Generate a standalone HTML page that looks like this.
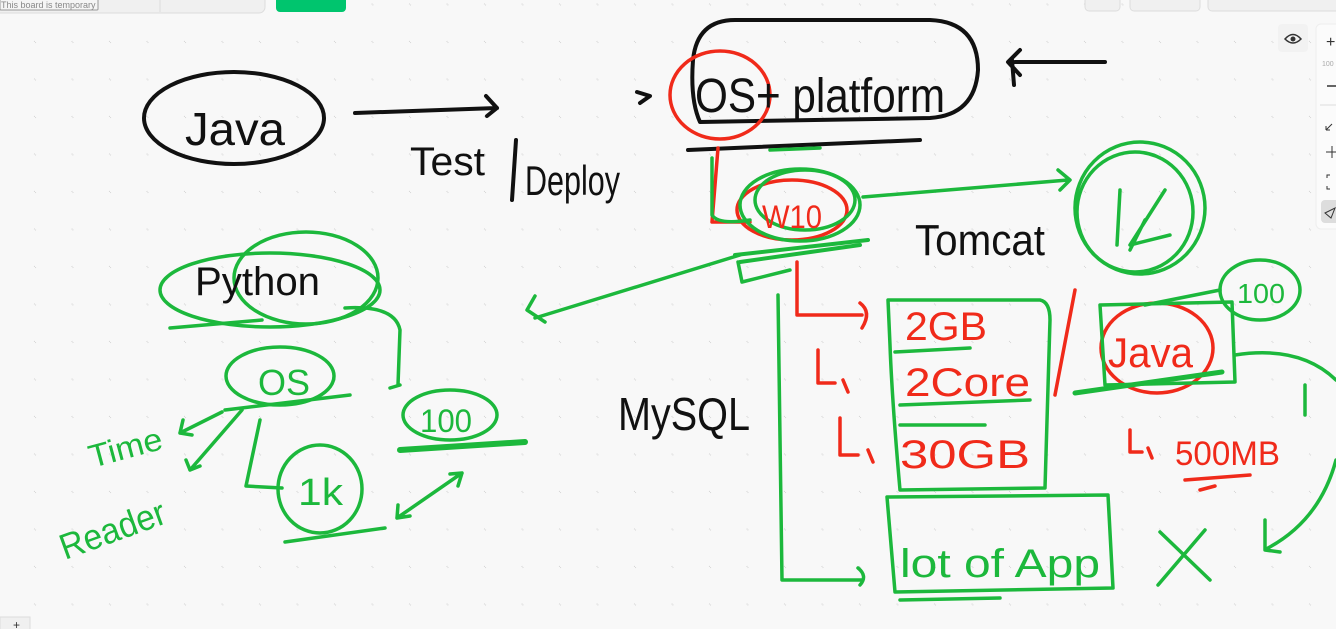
<!DOCTYPE html>
<html><head><meta charset="utf-8"><style>
html,body{margin:0;padding:0;width:1336px;height:629px;overflow:hidden;background:#f8f8f8;font-family:"Liberation Sans",sans-serif}
svg{position:absolute;left:0;top:0}
.t{font-family:"Liberation Sans",sans-serif}
</style></head><body>
<svg width="1336" height="629" viewBox="0 0 1336 629" xmlns="http://www.w3.org/2000/svg">
<defs>
<pattern id="dots" x="-2.5" y="4.5" width="37.5" height="37.5" patternUnits="userSpaceOnUse">
<circle cx="37.5" cy="37.5" r="1.2" fill="#d8d8d8"/><circle cx="0" cy="0" r="1.2" fill="#d8d8d8"/>
</pattern>
</defs>
<rect width="1336" height="629" fill="#f8f8f8"/>
<rect width="1336" height="629" fill="url(#dots)"/>

<!-- top bar -->
<rect x="-10" y="-10" width="275" height="23" rx="6" fill="#f0f0f0" stroke="#ddd"/>
<rect x="0" y="-2" width="98" height="12" fill="#f5f5f5" stroke="#999" rx="1"/>
<text x="1" y="8" font-size="9" fill="#888" class="t">This board is temporary</text>
<line x1="160" y1="0" x2="160" y2="12" stroke="#ddd"/>
<rect x="276" y="-8" width="70" height="20" rx="4" fill="#00c56e"/>
<rect x="1085" y="-8" width="35" height="19" rx="4" fill="#f0f0f0" stroke="#ddd"/>
<rect x="1130" y="-8" width="70" height="19" rx="4" fill="#f0f0f0" stroke="#ddd"/>
<rect x="1208" y="-8" width="140" height="19" rx="4" fill="#f0f0f0" stroke="#ddd"/>
<!-- right toolbar -->
<rect x="1278" y="24" width="30" height="28" rx="4" fill="#f2f2f2"/>
<path d="M1285 39 Q1293 30 1301 39 Q1293 47 1285 39Z" fill="none" stroke="#333" stroke-width="1.5"/>
<circle cx="1293" cy="39" r="2.5" fill="#333"/>
<rect x="1316" y="24" width="30" height="205" rx="5" fill="#fbfbfb" stroke="#eee"/>
<text x="1326" y="47" font-size="16" fill="#333" class="t">+</text>
<text x="1322" y="66" font-size="7" fill="#aaa" class="t">100</text>
<line x1="1327" y1="86" x2="1336" y2="86" stroke="#333" stroke-width="1.5"/>
<line x1="1320" y1="105" x2="1336" y2="105" stroke="#ddd"/>
<path d="M1326 130 l6 -6 M1326 130 v-4 M1326 130 h4" stroke="#333" fill="none"/>
<path d="M1332 146 v12 M1326 152 h12" stroke="#333" fill="none"/>
<path d="M1327 178 v-3 h3 M1327 186 v3 h3" stroke="#333" fill="none"/>
<rect x="1321" y="200" width="20" height="23" rx="4" fill="#ddd"/>
<path d="M1325 213 l10 -5 l-4 10z" fill="none" stroke="#333"/>
<rect x="0" y="617" width="30" height="14" fill="#f0f0f0" stroke="#ddd"/>
<text x="13" y="629" font-size="12" fill="#333" class="t">+</text>

<g fill="none" stroke-linecap="round" stroke-linejoin="round">
<!-- BLACK -->
<g stroke="#111" stroke-width="4">
<ellipse cx="234" cy="118" rx="90" ry="46"/>
<path d="M355 113 L497 108 M486 96 L497 108 L487 116"/>
<path d="M516 140 L512 200"/>
<path d="M637 92 L650 96 L640 103"/>
<path d="M735 20 L930 20 Q978 22 978 70 Q975 115 930 118 L700 122 Q690 100 693 60 Q697 20 735 20Z"/>
<path d="M688 150 L920 140"/>
<path d="M1105 62 L1015 62 M1020 50 L1008 62 L1020 75 M1012 60 L1014 85"/>
</g>
<!-- RED -->
<g stroke="#f02a1a" stroke-width="3.5">
<ellipse cx="720" cy="95" rx="50" ry="44"/>
<path d="M718 148 L712 222 L750 222"/>
<ellipse cx="792" cy="210" rx="55" ry="30"/>
<path d="M797 262 L797 315 L862 315 M860 303 Q872 312 862 328"/>
<path d="M818 350 L818 383 L835 383 M843 380 L848 392"/>
<path d="M840 418 L840 455 L858 455 M868 450 L873 462"/>
<path d="M1075 290 L1055 395"/>
<ellipse cx="1157" cy="348" rx="56" ry="45"/>
<path d="M1130 430 L1130 452 L1142 452 M1148 448 L1152 458"/>
<path d="M1185 480 L1250 475 M1200 490 L1215 486"/>
</g>
<!-- GREEN -->
<g stroke="#1cb83c" stroke-width="3.5">
<ellipse cx="270" cy="290" rx="110" ry="37"/>
<ellipse cx="306" cy="278" rx="72" ry="46"/>
<path d="M170 328 L262 320"/>
<path d="M345 308 Q395 305 400 330 L398 385 M390 388 L400 385"/>
<ellipse cx="280" cy="376" rx="54" ry="29"/>
<path d="M225 410 L350 395"/>
<path d="M222 412 L180 433 M183 420 L180 433 L192 435"/>
<path d="M242 410 L190 470 M186 460 L190 470 L200 466"/>
<path d="M260 420 L246 486 L282 488"/>
<ellipse cx="320" cy="489" rx="42" ry="44"/>
<path d="M285 542 L385 528"/>
<ellipse cx="450" cy="415" rx="47" ry="25"/>
<path d="M400 450 L525 442" stroke-width="6"/>
<path d="M397 518 L462 473 M450 474 L462 473 L458 486 M397 518 L398 505 M397 518 L410 516"/>
<path d="M740 255 L535 318 M535 296 L527 310 L545 322"/>
<ellipse cx="800" cy="205" rx="60" ry="36"/>
<ellipse cx="805" cy="200" rx="50" ry="30"/>
<path d="M712 158 L712 215 Q718 225 750 220"/>
<path d="M770 150 L820 148"/>
<path d="M735 255 L868 240 M740 262 L860 245" stroke-width="4"/>
<path d="M738 262 L742 282 L790 270"/>
<path d="M863 197 L1068 180 M1058 170 L1070 180 L1060 190"/>
<ellipse cx="1140" cy="208" rx="65" ry="66"/>
<ellipse cx="1135" cy="212" rx="58" ry="60"/>
<path d="M778 295 L782 580 L862 580 M858 568 Q868 576 860 585"/>
<path d="M888 300 L1040 300 Q1050 302 1050 320 L1045 488 L900 490 Q892 400 890 345 L888 300"/>
<path d="M895 352 L970 348 M900 405 L1030 400 M900 425 L985 425"/>
<path d="M1100 305 L1232 302 L1235 382 L1105 385 Z"/>
<path d="M1075 393 L1222 372" stroke-width="5"/>
<path d="M1145 305 L1220 290"/>
<ellipse cx="1260" cy="290" rx="40" ry="30"/>
<path d="M1235 355 Q1300 345 1336 380"/>
<path d="M1305 385 L1305 415"/>
<path d="M1336 460 Q1320 520 1268 548 M1265 520 L1265 550 L1280 552"/>
<path d="M887 497 L1108 495 L1113 588 L895 592 Z"/>
<path d="M900 600 L1000 598"/>
<path d="M1160 532 L1210 580 M1205 530 L1158 585"/>
<path d="M1145 220 L1130 250 M1165 190 L1130 245 L1170 235 M1120 190 L1117 245"/>
</g>
</g>

<!-- text -->
<g class="t" font-family="'Liberation Sans',sans-serif" lengthAdjust="spacingAndGlyphs">
<text x="185" y="145" font-size="46" fill="#111" textLength="100" lengthAdjust="spacingAndGlyphs">Java</text>
<text x="410" y="175" font-size="40" fill="#111" textLength="75" lengthAdjust="spacingAndGlyphs">Test</text>
<text x="525" y="195" font-size="42" fill="#111" textLength="95" lengthAdjust="spacingAndGlyphs">Deploy</text>
<text x="695" y="112" font-size="48" fill="#111" textLength="250" lengthAdjust="spacingAndGlyphs">OS+ platform</text>
<text x="915" y="255" font-size="44" fill="#111" textLength="130" lengthAdjust="spacingAndGlyphs">Tomcat</text>
<text x="618" y="430" font-size="46" fill="#111" textLength="132" lengthAdjust="spacingAndGlyphs">MySQL</text>
<text x="195" y="295" font-size="40" fill="#111" textLength="125" lengthAdjust="spacingAndGlyphs">Python</text>
<text x="258" y="395" font-size="36" fill="#1cb83c" textLength="52" lengthAdjust="spacingAndGlyphs">OS</text>
<text x="92" y="468" font-size="32" fill="#1cb83c" transform="rotate(-15 92 468)" textLength="75" lengthAdjust="spacingAndGlyphs">Time</text>
<text x="65" y="560" font-size="36" fill="#1cb83c" transform="rotate(-20 65 560)" textLength="110" lengthAdjust="spacingAndGlyphs">Reader</text>
<text x="298" y="505" font-size="38" fill="#1cb83c" textLength="45" lengthAdjust="spacingAndGlyphs">1k</text>
<text x="420" y="432" font-size="32" fill="#1cb83c" textLength="52" lengthAdjust="spacingAndGlyphs">100</text>
<text x="1237" y="303" font-size="28" fill="#1cb83c" textLength="48" lengthAdjust="spacingAndGlyphs">100</text>
<text x="762" y="228" font-size="32" fill="#f02a1a" textLength="60" lengthAdjust="spacingAndGlyphs">W10</text>
<text x="905" y="340" font-size="40" fill="#f02a1a" textLength="82" lengthAdjust="spacingAndGlyphs">2GB</text>
<text x="905" y="396" font-size="40" fill="#f02a1a" textLength="125" lengthAdjust="spacingAndGlyphs">2Core</text>
<text x="900" y="468" font-size="40" fill="#f02a1a" textLength="130" lengthAdjust="spacingAndGlyphs">30GB</text>
<text x="1108" y="367" font-size="42" fill="#f02a1a" textLength="85" lengthAdjust="spacingAndGlyphs">Java</text>
<text x="1175" y="465" font-size="34" fill="#f02a1a" textLength="105" lengthAdjust="spacingAndGlyphs">500MB</text>
<text x="900" y="577" font-size="40" fill="#1cb83c" textLength="200" lengthAdjust="spacingAndGlyphs">lot of App</text>
</g>
</svg>
</body></html>
